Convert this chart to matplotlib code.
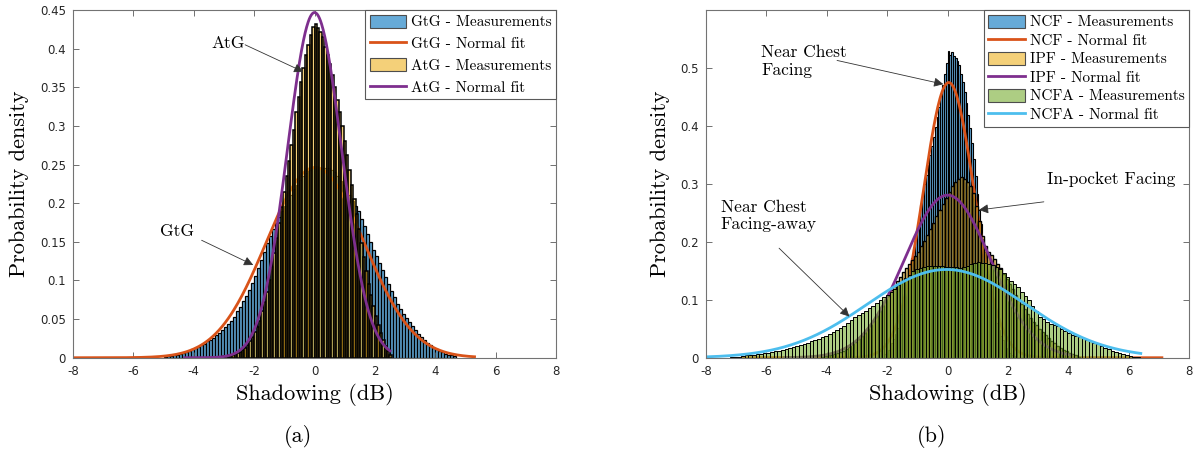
import numpy as np
import matplotlib
matplotlib.use('Agg')
import matplotlib.pyplot as plt

plt.rcParams['axes.unicode_minus'] = False
serif = 'cmr10'

# ---- (a) ground-to-ground / air-to-ground shadowing ----
gtg_start, gtg_step = -5.0, 0.1
gtg_pdf = [0.001, 0.002, 0.002, 0.003, 0.004, 0.005, 0.006, 0.008, 0.009, 0.011,
           0.012, 0.014, 0.016, 0.018, 0.021, 0.023, 0.026, 0.029, 0.032, 0.036,
           0.040, 0.044, 0.048, 0.053, 0.060, 0.066, 0.073, 0.080, 0.088, 0.097,
           0.106, 0.116, 0.126, 0.137, 0.148, 0.158, 0.166, 0.174, 0.182, 0.190,
           0.197, 0.204, 0.211, 0.218, 0.224, 0.230, 0.235, 0.239, 0.243, 0.246,
           0.247, 0.246, 0.245, 0.246, 0.245, 0.243, 0.240, 0.235, 0.229, 0.224,
           0.218, 0.210, 0.203, 0.197, 0.190, 0.180, 0.170, 0.160, 0.150, 0.140,
           0.131, 0.122, 0.113, 0.104, 0.095, 0.086, 0.078, 0.070, 0.063, 0.057,
           0.051, 0.046, 0.041, 0.036, 0.031, 0.027, 0.023, 0.019, 0.016, 0.013,
           0.011, 0.009, 0.007, 0.005, 0.004, 0.003, 0.002]

atg_start, atg_step = -3.2, 0.08
atg_pdf = [0.001, 0.001, 0.002, 0.002, 0.003, 0.003, 0.004, 0.005, 0.006, 0.008,
           0.010, 0.013, 0.017, 0.021, 0.027, 0.033, 0.040, 0.048, 0.060, 0.072,
           0.085, 0.100, 0.117, 0.135, 0.155, 0.175, 0.195, 0.215, 0.235, 0.255,
           0.275, 0.295, 0.318, 0.338, 0.357, 0.375, 0.392, 0.405, 0.418, 0.428,
           0.432, 0.427, 0.422, 0.415, 0.402, 0.392, 0.380, 0.366, 0.350, 0.334,
           0.318, 0.300, 0.280, 0.262, 0.243, 0.224, 0.205, 0.186, 0.167, 0.148,
           0.130, 0.112, 0.096, 0.081, 0.067, 0.054, 0.042, 0.032, 0.023, 0.015,
           0.009, 0.004]

# normal fits: (mean, std, x range)
gtg_fit = (0.02, 1.62, -8.0, 5.3)
atg_fit = (0.0, 0.893, -4.3, 2.5)

# ---- (b) near chest facing / in-pocket facing / near chest facing-away ----
ncf_start, ncf_step = -2.1, 0.06
ncf_pdf = [0.006, 0.009, 0.013, 0.018, 0.025, 0.032, 0.041, 0.051, 0.063, 0.076,
           0.091, 0.106, 0.122, 0.138, 0.155, 0.172, 0.188, 0.206, 0.224, 0.243,
           0.263, 0.283, 0.300, 0.316, 0.332, 0.349, 0.365, 0.381, 0.398, 0.416,
           0.433, 0.452, 0.470, 0.490, 0.508, 0.530, 0.522, 0.527, 0.521, 0.518,
           0.512, 0.505, 0.490, 0.475, 0.458, 0.440, 0.418, 0.396, 0.370, 0.343,
           0.314, 0.283, 0.255, 0.230, 0.205, 0.182, 0.161, 0.140, 0.121, 0.103,
           0.087, 0.073, 0.060, 0.048, 0.038, 0.030, 0.023, 0.017, 0.012, 0.008,
           0.005, 0.003]

ipf_start, ipf_step = -4.2, 0.1
ipf_pdf = [0.002, 0.003, 0.004, 0.005, 0.006, 0.008, 0.010, 0.012, 0.015, 0.019,
           0.023, 0.027, 0.032, 0.037, 0.043, 0.049, 0.056, 0.064, 0.072, 0.080,
           0.089, 0.098, 0.107, 0.116, 0.124, 0.132, 0.140, 0.148, 0.155, 0.162,
           0.169, 0.176, 0.183, 0.192, 0.201, 0.211, 0.222, 0.233, 0.244, 0.255,
           0.266, 0.276, 0.286, 0.296, 0.303, 0.309, 0.311, 0.308, 0.304, 0.296,
           0.284, 0.262, 0.236, 0.210, 0.192, 0.183, 0.178, 0.170, 0.162, 0.154,
           0.145, 0.136, 0.127, 0.118, 0.109, 0.100, 0.092, 0.084, 0.076, 0.069,
           0.062, 0.056, 0.050, 0.044, 0.039, 0.034, 0.029, 0.025, 0.021, 0.017,
           0.014, 0.011, 0.008, 0.006, 0.004, 0.002]

ncfa_start, ncfa_step = -7.2, 0.12
ncfa_pdf = [0.001, 0.002, 0.002, 0.003, 0.004, 0.004, 0.005, 0.006, 0.007, 0.008,
            0.009, 0.010, 0.011, 0.012, 0.014, 0.015, 0.017, 0.019, 0.020, 0.022,
            0.024, 0.026, 0.028, 0.030, 0.032, 0.035, 0.038, 0.041, 0.044, 0.047,
            0.051, 0.055, 0.060, 0.065, 0.070, 0.074, 0.078, 0.081, 0.085, 0.090,
            0.095, 0.100, 0.104, 0.109, 0.114, 0.119, 0.125, 0.131, 0.137, 0.143,
            0.149, 0.153, 0.155, 0.157, 0.158, 0.158, 0.159, 0.158, 0.158, 0.157,
            0.156, 0.157, 0.156, 0.155, 0.156, 0.159, 0.162, 0.164, 0.165, 0.164,
            0.163, 0.161, 0.160, 0.157, 0.153, 0.146, 0.139, 0.133, 0.128, 0.122,
            0.114, 0.106, 0.099, 0.090, 0.080, 0.071, 0.066, 0.062, 0.059, 0.057,
            0.054, 0.050, 0.046, 0.043, 0.040, 0.038, 0.036, 0.034, 0.031, 0.028,
            0.025, 0.023, 0.020, 0.017, 0.015, 0.012, 0.010, 0.008, 0.006, 0.004,
            0.003, 0.002, 0.001]

ncf_fit = (0.04, 0.840, -6.8, 7.1)
ipf_fit = (0.0, 1.422, -5.4, 4.1)
ncfa_fit = (-0.04, 2.62, -8.0, 6.4)

x_ticks = [-8, -6, -4, -2, 0, 2, 4, 6, 8]
a_yticks = [0, 0.05, 0.1, 0.15, 0.2, 0.25, 0.3, 0.35, 0.4, 0.45]
a_ylabels = ['0', '0.05', '0.1', '0.15', '0.2', '0.25', '0.3', '0.35', '0.4', '0.45']
b_yticks = [0, 0.1, 0.2, 0.3, 0.4, 0.5]
b_ylabels = ['0', '0.1', '0.2', '0.3', '0.4', '0.5']

# matlab default colours
c_blue, c_orange, c_yellow = '#0072BD', '#D95319', '#EDB120'
c_purple, c_green, c_cyan = '#7E2F8E', '#77AC30', '#4DBEEE'


def draw_hist(ax, start, step, pdf, color, label, z, ew):
    pdf = np.asarray(pdf)
    left = start + step * np.arange(len(pdf))
    rgba = matplotlib.colors.to_rgba(color, 0.6)
    bars = ax.bar(left, pdf, width=step, align='edge', facecolor=rgba,
                  edgecolor='black', linewidth=ew, label=label, zorder=z)
    return bars


def draw_fit(ax, fit, color, label, z):
    mu, sd, lo, hi = fit
    x = np.linspace(lo, hi, 400)
    y = np.exp(-0.5 * ((x - mu) / sd) ** 2) / (sd * np.sqrt(2 * np.pi))
    line, = ax.plot(x, y, color=color, lw=2, label=label, zorder=z)
    return line


def style_axes(ax, yticks, ylabels, ymax, handles, spacing):
    ax.set_xlim(-8, 8)
    ax.set_ylim(0, ymax)
    ax.set_xticks(x_ticks)
    ax.set_xticklabels([str(t) for t in x_ticks])
    ax.set_yticks(yticks)
    ax.set_yticklabels(ylabels)
    ax.tick_params(direction='in', top=True, right=True, labelsize=8.5,
                   length=4, width=0.6, color='0.35', pad=5, labelcolor='0.15')
    for s in ax.spines.values():
        s.set_color('0.45')
        s.set_linewidth(0.8)
        s.set_zorder(20)
    ax.set_xlabel('Shadowing (dB)', family=serif, fontsize=16)
    ax.set_ylabel('Probability density', family=serif, fontsize=16)
    leg = ax.legend(handles=handles, loc='upper right',
                    prop={'family': serif, 'size': 11},
                    fancybox=False, framealpha=1, edgecolor='0.35',
                    borderaxespad=0, handlelength=2.4, handleheight=0.95,
                    labelspacing=spacing, borderpad=0.3, handletextpad=0.3)
    leg.get_frame().set_linewidth(0.8)
    leg.set_zorder(30)
    for p in leg.get_patches():
        p.set_linewidth(0.8)
        p.set_edgecolor('0.3')


def arrow(ax, tail, tip):
    ax.annotate('', xy=tip, xytext=tail, zorder=25,
                arrowprops=dict(arrowstyle='-|>', color='0.2', lw=0.6,
                                mutation_scale=14, shrinkA=0, shrinkB=0))


fig = plt.figure(figsize=(11.93, 4.55), dpi=100)
ax1 = fig.add_axes([0.0612, 0.2138, 0.4049, 0.7642])
ax2 = fig.add_axes([0.5918, 0.2138, 0.4049, 0.7642])

h1 = [draw_hist(ax1, gtg_start, gtg_step, gtg_pdf, c_blue, 'GtG - Measurements', 1, 0.9),
      draw_fit(ax1, gtg_fit, c_orange, 'GtG - Normal fit', 2),
      draw_hist(ax1, atg_start, atg_step, atg_pdf, c_yellow, 'AtG - Measurements', 3, 1.1),
      draw_fit(ax1, atg_fit, c_purple, 'AtG - Normal fit', 4)]
style_axes(ax1, a_yticks, a_ylabels, 0.45, h1, 0.45)
ax1.yaxis.set_label_coords(-0.092, 0.5)
ax1.xaxis.set_label_coords(0.5, -0.073)

ax1.text(-2.87, 0.407, 'AtG', family=serif, fontsize=12.5, ha='center', va='center')
arrow(ax1, (-2.30, 0.405), (-0.37, 0.370))
ax1.text(-4.57, 0.164, 'GtG', family=serif, fontsize=12.5, ha='center', va='center')
arrow(ax1, (-3.74, 0.152), (-2.03, 0.120))

h2 = [draw_hist(ax2, ncf_start, ncf_step, ncf_pdf, c_blue, 'NCF - Measurements', 1, 0.8),
      draw_fit(ax2, ncf_fit, c_orange, 'NCF - Normal fit', 2),
      draw_hist(ax2, ipf_start, ipf_step, ipf_pdf, c_yellow, 'IPF - Measurements', 3, 1.0),
      draw_fit(ax2, ipf_fit, c_purple, 'IPF - Normal fit', 4),
      draw_hist(ax2, ncfa_start, ncfa_step, ncfa_pdf, c_green, 'NCFA - Measurements', 5, 0.7),
      draw_fit(ax2, ncfa_fit, c_cyan, 'NCFA - Normal fit', 6)]
style_axes(ax2, b_yticks, b_ylabels, 0.6, h2, 0.24)
ax2.yaxis.set_label_coords(-0.074, 0.5)
ax2.xaxis.set_label_coords(0.5, -0.073)

ax2.text(-6.17, 0.511, 'Near Chest\nFacing', family=serif, fontsize=12.5,
         ha='left', va='center', linespacing=1.2, zorder=25)
arrow(ax2, (-3.66, 0.513), (-0.14, 0.472))
ax2.text(3.31, 0.308, 'In-pocket Facing', family=serif, fontsize=12.5,
         ha='left', va='center', zorder=25)
arrow(ax2, (3.19, 0.269), (1.04, 0.255))
ax2.text(-7.52, 0.245, 'Near Chest\nFacing-away', family=serif, fontsize=12.5,
         ha='left', va='center', linespacing=1.2, zorder=25)
arrow(ax2, (-5.58, 0.189), (-3.25, 0.071))

fig.text(0.25, 0.04, '(a)', family=serif, fontsize=16, ha='center', va='center')
fig.text(0.781, 0.04, '(b)', family=serif, fontsize=16, ha='center', va='center')

fig.savefig('out.png', dpi=100)
